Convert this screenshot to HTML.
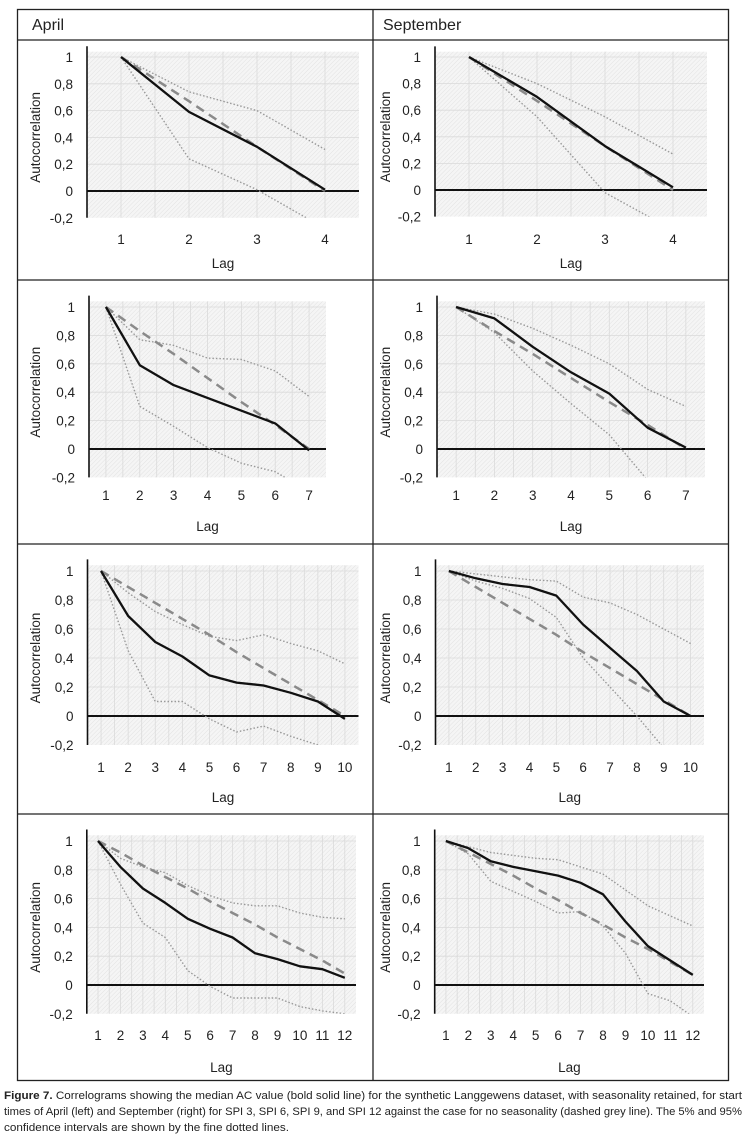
<!DOCTYPE html>
<html><head><meta charset="utf-8">
<style>
html,body{margin:0;padding:0;background:#fff;width:746px;height:1135px;overflow:hidden}
svg{display:block}
text{font-family:"Liberation Sans",sans-serif;fill:#222}
</style></head>
<body>
<svg id="fig" width="746" height="1135" viewBox="0 0 746 1135" xmlns="http://www.w3.org/2000/svg">
<defs>
<pattern id="hatch" width="3" height="3" patternUnits="userSpaceOnUse" patternTransform="rotate(45)">
<rect width="3" height="3" fill="#f5f5f5"/><line x1="0" y1="0" x2="0" y2="3" stroke="#e2e2e2" stroke-width="1"/>
</pattern>
</defs>
<g stroke="#222" stroke-width="1.3" fill="none">
<rect x="17.5" y="9.5" width="711" height="1071"/>
<line x1="373" y1="9.5" x2="373" y2="1080.5"/>
<line x1="17.5" y1="40" x2="728.5" y2="40"/>
<line x1="17.5" y1="280" x2="728.5" y2="280"/>
<line x1="17.5" y1="544" x2="728.5" y2="544"/>
<line x1="17.5" y1="814" x2="728.5" y2="814"/>
</g>
<text x="32" y="30" font-size="16">April</text>
<text x="383" y="30" font-size="16">September</text>
<g id="charts"></g>
<text font-size="11" fill="#222">
<tspan x="4" y="1099" textLength="738" lengthAdjust="spacingAndGlyphs"><tspan font-weight="bold">Figure 7.</tspan> Correlograms showing the median AC value (bold solid line) for the synthetic Langgewens dataset, with seasonality retained, for start</tspan>
<tspan x="4" y="1115" textLength="738" lengthAdjust="spacingAndGlyphs">times of April (left) and September (right) for SPI 3, SPI 6, SPI 9, and SPI 12 against the case for no seasonality (dashed grey line). The 5% and 95%</tspan>
<tspan x="4" y="1131" textLength="285" lengthAdjust="spacingAndGlyphs">confidence intervals are shown by the fine dotted lines.</tspan>
</text>
</svg>
<script>
// ---- data ----
const yTicks = [1, 0.8, 0.6, 0.4, 0.2, 0, -0.2];
const yTickLabels = ["1", "0,8", "0,6", "0,4", "0,2", "0", "-0,2"];

const aprSpi3Median = [1, 0.59, 0.33, 0.01];
const aprSpi3NoSeason = [1, 0.67, 0.33, 0];
const aprSpi3Upper = [1, 0.74, 0.6, 0.31];
const aprSpi3Lower = [1, 0.24, 0.01, -0.28];

const sepSpi3Median = [1, 0.7, 0.33, 0.02];
const sepSpi3NoSeason = [1, 0.67, 0.33, 0];
const sepSpi3Upper = [1, 0.8, 0.55, 0.27];
const sepSpi3Lower = [1, 0.55, -0.02, -0.3];

const aprSpi6Median = [1, 0.59, 0.45, 0.36, 0.27, 0.18, -0.01];
const aprSpi6NoSeason = [1, 0.83, 0.67, 0.5, 0.33, 0.17, 0];
const aprSpi6Upper = [1, 0.77, 0.73, 0.64, 0.63, 0.55, 0.37];
const aprSpi6Lower = [1, 0.3, 0.16, 0.01, -0.1, -0.16, -0.3];

const sepSpi6Median = [1, 0.92, 0.72, 0.54, 0.39, 0.15, 0.01];
const sepSpi6NoSeason = [1, 0.83, 0.67, 0.5, 0.33, 0.17, 0];
const sepSpi6Upper = [1, 0.95, 0.85, 0.73, 0.6, 0.42, 0.3];
const sepSpi6Lower = [1, 0.82, 0.55, 0.32, 0.1, -0.22, -0.45];

const aprSpi9Median = [1, 0.69, 0.51, 0.41, 0.28, 0.23, 0.21, 0.16, 0.1, -0.02];
const aprSpi9NoSeason = [1, 0.89, 0.78, 0.67, 0.56, 0.44, 0.33, 0.22, 0.11, 0];
const aprSpi9Upper = [1, 0.85, 0.72, 0.63, 0.55, 0.52, 0.56, 0.5, 0.45, 0.36];
const aprSpi9Lower = [1, 0.45, 0.1, 0.1, -0.02, -0.11, -0.07, -0.14, -0.2, -0.25];

const sepSpi9Median = [1, 0.95, 0.91, 0.89, 0.83, 0.63, 0.47, 0.31, 0.1, 0];
const sepSpi9NoSeason = [1, 0.89, 0.78, 0.67, 0.56, 0.44, 0.33, 0.22, 0.11, 0];
const sepSpi9Upper = [1, 0.98, 0.96, 0.94, 0.93, 0.82, 0.78, 0.7, 0.6, 0.5];
const sepSpi9Lower = [1, 0.93, 0.88, 0.81, 0.68, 0.4, 0.2, 0.0, -0.22, -0.4];

const aprSpi12Median = [1, 0.82, 0.67, 0.57, 0.46, 0.39, 0.33, 0.22, 0.18, 0.13, 0.11, 0.05];
const aprSpi12NoSeason = [1, 0.92, 0.83, 0.75, 0.67, 0.58, 0.5, 0.42, 0.33, 0.25, 0.17, 0.08];
const aprSpi12Upper = [1, 0.88, 0.82, 0.78, 0.69, 0.62, 0.57, 0.55, 0.55, 0.5, 0.47, 0.46];
const aprSpi12Lower = [1, 0.7, 0.43, 0.33, 0.1, -0.01, -0.09, -0.09, -0.09, -0.15, -0.18, -0.2];

const sepSpi12Median = [1, 0.95, 0.86, 0.82, 0.79, 0.76, 0.71, 0.63, 0.44, 0.27, 0.17, 0.07];
const sepSpi12NoSeason = [1, 0.92, 0.84, 0.76, 0.67, 0.59, 0.5, 0.42, 0.33, 0.25, 0.16, 0.07];
const sepSpi12Upper = [1, 0.96, 0.92, 0.9, 0.88, 0.87, 0.82, 0.77, 0.66, 0.55, 0.48, 0.41];
const sepSpi12Lower = [1, 0.91, 0.72, 0.65, 0.58, 0.5, 0.51, 0.41, 0.22, -0.06, -0.11, -0.22];

// ---- layout (pixels, not data) ----
const panels = [
 {id:"april-spi3", L:87, R:359, y1:57, y0:191, tickY:244, lagY:268, titleX:40, med:aprSpi3Median, ns:aprSpi3NoSeason, up:aprSpi3Upper, lo:aprSpi3Lower},
 {id:"september-spi3", L:435, R:707, y1:57, y0:190, tickY:244, lagY:268, titleX:390, med:sepSpi3Median, ns:sepSpi3NoSeason, up:sepSpi3Upper, lo:sepSpi3Lower},
 {id:"april-spi6", L:89, R:326, y1:307, y0:449, tickY:500, lagY:531, titleX:40, med:aprSpi6Median, ns:aprSpi6NoSeason, up:aprSpi6Upper, lo:aprSpi6Lower},
 {id:"september-spi6", L:437, R:705, y1:307, y0:449, tickY:500, lagY:531, titleX:390, med:sepSpi6Median, ns:sepSpi6NoSeason, up:sepSpi6Upper, lo:sepSpi6Lower},
 {id:"april-spi9", L:87.5, R:358.5, y1:571, y0:716, tickY:772, lagY:802, titleX:40, med:aprSpi9Median, ns:aprSpi9NoSeason, up:aprSpi9Upper, lo:aprSpi9Lower},
 {id:"september-spi9", L:435.5, R:704, y1:571, y0:716, tickY:772, lagY:802, titleX:390, med:sepSpi9Median, ns:sepSpi9NoSeason, up:sepSpi9Upper, lo:sepSpi9Lower},
 {id:"april-spi12", L:86.8, R:356, y1:841, y0:985, tickY:1040, lagY:1072, titleX:40, med:aprSpi12Median, ns:aprSpi12NoSeason, up:aprSpi12Upper, lo:aprSpi12Lower},
 {id:"september-spi12", L:434.7, R:704, y1:841, y0:985, tickY:1040, lagY:1072, titleX:390, med:sepSpi12Median, ns:sepSpi12NoSeason, up:sepSpi12Upper, lo:sepSpi12Lower}
];

const NS = "http://www.w3.org/2000/svg";
const root = document.getElementById("charts");
function mk(tag, attrs, parent){ const e=document.createElementNS(NS,tag); for(const k in attrs) e.setAttribute(k,attrs[k]); parent.appendChild(e); return e; }

panels.forEach((p, pi) => {
  const n = p.med.length;
  const step = (p.R - p.L) / n;
  const xs = i => p.L + (i + 0.5) * step;
  const ys = v => p.y0 - v * (p.y0 - p.y1);
  const g = mk("g", {}, root);
  
  
  const top = ys(1.04), bot = ys(-0.2);
  const clip = mk("clipPath", {id:"clip"+pi}, g);
  mk("rect", {x:p.L, y:top, width:p.R-p.L, height:bot-top}, clip);
  const bg = mk("rect", {x:p.L, y:top, width:p.R-p.L, height:bot-top, fill:"url(#hatch)"}, g);
  
  
  for (let k = 1; k < n * 2; k++) {
    const x = p.L + k * step / 2;
    mk("line", {x1:x, x2:x, y1:top, y2:bot, stroke:"#dadada", "stroke-width":0.8}, g);
  }
  yTicks.forEach(v => { if (v !== 0 && v !== -0.2) mk("line", {x1:p.L, x2:p.R, y1:ys(v), y2:ys(v), stroke:"#dadada", "stroke-width":0.8}, g); });
  const ya = mk("line", {x1:p.L, x2:p.L, y1:ys(1.08), y2:bot, stroke:"#111", "stroke-width":1.6}, g);
  
  
  const zl = mk("line", {x1:p.L, x2:p.R, y1:ys(0), y2:ys(0), stroke:"#111", "stroke-width":2}, g);
  
  
  yTicks.forEach((v, i) => {
    const t = mk("text", {x:p.L - 14, y:ys(v) + 5, "text-anchor":"end", "font-size":13.5}, g);
    
    
    t.textContent = yTickLabels[i];
  });
  p.med.forEach((_, i) => {
    const t = mk("text", {x:xs(i), y:p.tickY, "text-anchor":"middle", "font-size":13.5}, g);
    
    
    t.textContent = String(i + 1);
  });
  const lag = mk("text", {x:(p.L + p.R) / 2, y:p.lagY, "text-anchor":"middle", "font-size":13.5}, g);
  
  
  lag.textContent = "Lag";
  const yt = mk("text", {x:0, y:0, "text-anchor":"middle", "font-size":13.5, transform:`translate(${p.titleX},${(p.y1 + bot) / 2}) rotate(-90)`}, g);
  
  
  yt.textContent = "Autocorrelation";
  const lines = mk("g", {"clip-path":`url(#clip${pi})`, fill:"none"}, g);
  const pts = arr => arr.map((v, i) => xs(i).toFixed(1) + "," + ys(v).toFixed(1)).join(" ");
  const up = mk("polyline", {points:pts(p.up), stroke:"#999", "stroke-width":1.4, "stroke-dasharray":"1.5,2"}, lines);
  
  
  const lo = mk("polyline", {points:pts(p.lo), stroke:"#999", "stroke-width":1.4, "stroke-dasharray":"1.5,2"}, lines);
  
  
  const ns = mk("polyline", {points:pts(p.ns), stroke:"#8a8a8a", "stroke-width":2.5, "stroke-dasharray":"9,6"}, lines);
  
  
  const md = mk("polyline", {points:pts(p.med), stroke:"#111", "stroke-width":2.3, "stroke-linejoin":"round"}, lines);
  
  
});
</script>
</body></html>
